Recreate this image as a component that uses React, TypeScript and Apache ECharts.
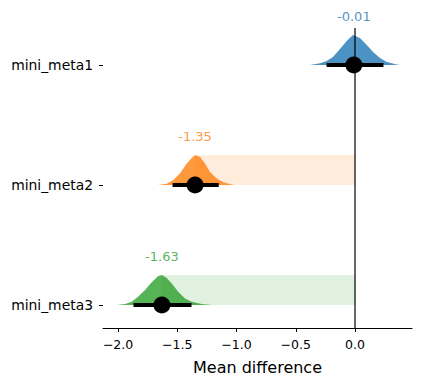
import React, { useEffect, useRef } from "react";
import * as echarts from "echarts";

const groups = ["mini_meta1", "mini_meta2", "mini_meta3"];
const rowPos = [2, 1, 0];
const estimates = [-0.01, -1.35, -1.63];
const estimateLabels = ["-0.01", "-1.35", "-1.63"];
const ciLow = [-0.24, -1.54, -1.87];
const ciHigh = [0.24, -1.15, -1.38];
const colors = ["#1f77b4", "#ff7f0e", "#2ca02c"];

// density curves: x value and relative height
const densX1 = [-0.38, -0.295, -0.239, -0.186, -0.127, -0.07, -0.017, 0.042, 0.099, 0.152, 0.211, 0.268, 0.352, 0.38];
const densH1 = [0, 0.06, 0.13, 0.27, 0.53, 0.8, 1.0, 0.9, 0.67, 0.43, 0.23, 0.1, 0.02, 0];
const densX2 = [-1.662, -1.589, -1.533, -1.477, -1.42, -1.378, -1.35, -1.308, -1.266, -1.224, -1.167, -1.111, -1.041, -1.013];
const densH2 = [0, 0.04, 0.17, 0.39, 0.72, 0.9, 1.0, 0.93, 0.72, 0.43, 0.22, 0.09, 0.02, 0];
const densX3 = [-2.011, -1.941, -1.884, -1.829, -1.772, -1.716, -1.66, -1.631, -1.589, -1.547, -1.491, -1.435, -1.378, -1.294, -1.209];
const densH3 = [0, 0.03, 0.11, 0.28, 0.5, 0.76, 0.97, 1.0, 0.9, 0.72, 0.43, 0.22, 0.11, 0.03, 0];
const densX = [densX1, densX2, densX3];
const densH = [densH1, densH2, densH3];

const xTicks = [-2, -1.5, -1, -0.5, 0];
const xMin = -2.127;
const xMax = 0.481;
const yMin = -0.1917;
const yMax = 2.3083;
const violinHeight = 0.25;
const labelOffset = 0.405;

const FONT = "DejaVu Sans";

export default function App() {
  const ref = useRef<HTMLDivElement>(null);
  useEffect(() => {
    if (!ref.current) return;
    const chart = echarts.init(ref.current, null, { renderer: "svg" });
    const series: any[] = [];
    groups.forEach((g, i) => {
      series.push({
        type: "custom",
        name: g + "_violin",
        z: 2,
        data: [0],
        renderItem: (params: any, api: any) => {
          const pts = densX[i].map((x, k) => api.coord([x, rowPos[i] + densH[i][k] * violinHeight]));
          return {
            type: "polygon",
            shape: { points: pts },
            style: { fill: colors[i], opacity: 0.8 },
          };
        },
      });
    });
    groups.forEach((g, i) => {
      series.push({
        type: "custom",
        name: g + "_rect",
        z: 3,
        data: [0],
        renderItem: (params: any, api: any) => {
          const p1 = api.coord([estimates[i], rowPos[i] + violinHeight]);
          const p2 = api.coord([0, rowPos[i]]);
          return {
            type: "rect",
            shape: { x: p1[0], y: p1[1], width: p2[0] - p1[0], height: p2[1] - p1[1] },
            style: { fill: colors[i], opacity: 0.15 },
          };
        },
      });
    });
    series.push({
      type: "line",
      z: 4,
      data: [[0, yMin], [0, yMax]],
      symbol: "none",
      lineStyle: { color: "#000", width: 1.2 },
      silent: true,
    });
    groups.forEach((g, i) => {
      series.push({
        type: "line",
        z: 5,
        data: [[ciLow[i], rowPos[i]], [ciHigh[i], rowPos[i]]],
        symbol: "none",
        lineStyle: { color: "#000", width: 4 },
      });
    });
    series.push({
      type: "scatter",
      z: 6,
      symbolSize: 17,
      itemStyle: { color: "#000", opacity: 1 },
      data: groups.map((g, i) => [estimates[i], rowPos[i]]),
    });
    series.push({
      type: "scatter",
      z: 7,
      symbolSize: 0,
      clip: false,
      data: groups.map((g, i) => ({
        value: [estimates[i], rowPos[i] + labelOffset],
        label: {
          show: true,
          position: "inside",
          formatter: estimateLabels[i],
          color: colors[i],
          fontSize: 13,
          fontFamily: FONT,
        },
      })),
    });

    chart.setOption({
      animation: false,
      grid: { left: 103, right: 9, top: 28, bottom: 58 },
      xAxis: {
        type: "value",
        min: xMin,
        max: xMax,
        splitLine: { show: false },
        axisLine: { show: true, onZero: false, lineStyle: { color: "#000", width: 1 } },
        axisTick: { show: true, length: 4, customValues: xTicks, lineStyle: { color: "#000" } },
        axisLabel: {
          customValues: xTicks,
          color: "#000",
          fontSize: 12.5,
          fontFamily: FONT,
          margin: 10,
          formatter: (v: number) => v.toFixed(1).replace("-", "\u2212"),
        },
        name: "Mean difference",
        nameLocation: "middle",
        nameGap: 31,
        nameTextStyle: { color: "#000", fontSize: 16, fontFamily: FONT },
      },
      yAxis: {
        type: "value",
        min: yMin,
        max: yMax,
        splitLine: { show: false },
        axisLine: { show: false, onZero: false },
        axisTick: { show: true, length: 4, customValues: rowPos, lineStyle: { color: "#000" } },
        axisLabel: {
          customValues: rowPos,
          color: "#000",
          fontSize: 13.9,
          fontFamily: FONT,
          margin: 10,
          formatter: (v: number) => {
            const idx = rowPos.indexOf(Math.round(v));
            return idx >= 0 ? groups[idx] : "";
          },
        },
      },
      series,
    });
    return () => chart.dispose();
  }, []);
  return (
    <div
      ref={ref}
      style={{ position: "fixed", left: 0, top: 0, width: 421, height: 386, background: "#fff" }}
    />
  );
}
